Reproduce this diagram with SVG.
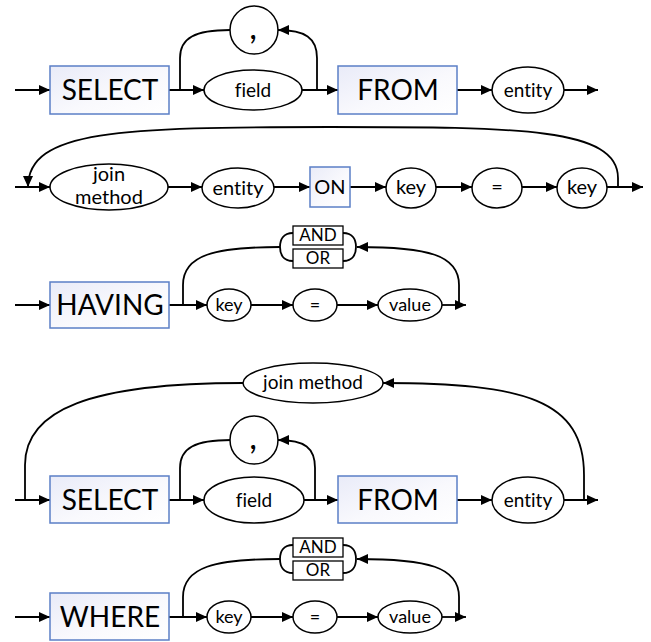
<svg xmlns="http://www.w3.org/2000/svg" width="651" height="642" viewBox="0 0 651 642">
  <defs>
    <linearGradient id="kwFill" x1="0" y1="0" x2="1" y2="1">
      <stop offset="0" stop-color="#e9ebf8"/>
      <stop offset="0.55" stop-color="#f9f9fd"/>
      <stop offset="1" stop-color="#ffffff"/>
    </linearGradient>
    <marker id="arrow" markerUnits="userSpaceOnUse" markerWidth="12" markerHeight="10" refX="11" refY="5" orient="auto">
      <path d="M0,0 L11,5 L0,10 z" fill="#000"/>
    </marker>
  </defs>
  <style>
    .kw { fill: url(#kwFill); stroke: #5b7fc6; stroke-width: 1.5; }
    .term { fill: #fff; stroke: #000; stroke-width: 1.5; }
    .op { fill: #fff; stroke: #000; stroke-width: 1.3; }
    .edge { fill: none; stroke: #000; stroke-width: 1.8; }
    .arr { marker-end: url(#arrow); }
    text { font-family: Lato, "Open Sans", sans-serif; fill: #000; text-anchor: middle; font-variant-ligatures: none; }
    .big { font-size: 28px; }
    .mid { font-size: 19px; }
    .row2 { font-size: 20px; }
    .sm { font-size: 18px; }
    .xs { font-size: 17px; }
    .comma { font-size: 34px; }
  </style>

  <!-- connectors -->
  <g id="connectors">
    <!-- SELECT ... FROM entity -->
    <path class="edge arr" d="M15,90 H50"/>
    <path class="edge arr" d="M169,90 H204"/>
    <path class="edge arr" d="M302,90 H338"/>
    <path class="edge arr" d="M457,90 H492"/>
    <path class="edge arr" d="M564,90 H598"/>
    <path class="edge" d="M180,90 V58 C180,38 195,30 230,30"/>
    <path class="edge arr" d="M317,90 V58 C317,38 305,30 278,30"/>

    <!-- join method entity ON key = key -->
    <path class="edge arr" d="M15,187 H50"/>
    <path class="edge arr" d="M168,187 H202"/>
    <path class="edge arr" d="M274,187 H310"/>
    <path class="edge arr" d="M350,187 H386"/>
    <path class="edge arr" d="M436,187 H472"/>
    <path class="edge arr" d="M522,187 H557"/>
    <path class="edge arr" d="M607,187 H643"/>
    <path class="edge arr" d="M618,187 V178 C618,128 520,127 330,127 C120,127 28,130 28,187"/>

    <!-- HAVING key = value -->
    <path class="edge arr" d="M15,305 H50"/>
    <path class="edge arr" d="M169,305 H207"/>
    <path class="edge arr" d="M251,305 H293"/>
    <path class="edge arr" d="M337,305 H378"/>
    <path class="edge arr" d="M442,305 H466"/>
    <path class="edge" d="M183,305 V285 C183,255 215,247 280,247"/>
    <path class="edge arr" d="M459,305 V285 C459,255 428,247 357,247"/>
    <path class="edge" d="M293,233 C283,233 280,240 280,247 C280,254 283,261 293,261"/>
    <path class="edge" d="M343,233 C353,233 356,240 356,247 C356,254 353,261 343,261"/>

    <!-- SELECT ... FROM entity with join method loop -->
    <path class="edge arr" d="M15,500 H50"/>
    <path class="edge arr" d="M169,500 H204"/>
    <path class="edge arr" d="M304,500 H338"/>
    <path class="edge arr" d="M457,500 H492"/>
    <path class="edge arr" d="M564,500 H598"/>
    <path class="edge" d="M180,500 V468 C180,448 195,440 231,440"/>
    <path class="edge arr" d="M315,500 V468 C315,448 305,440 278,440"/>
    <path class="edge arr" d="M584,500 V475 C584,400 525,383 383,383"/>
    <path class="edge" d="M243,383 C90,383 25,410 25,465 V500"/>

    <!-- WHERE key = value -->
    <path class="edge arr" d="M15,617 H50"/>
    <path class="edge arr" d="M169,617 H207"/>
    <path class="edge arr" d="M251,617 H293"/>
    <path class="edge arr" d="M337,617 H378"/>
    <path class="edge arr" d="M442,617 H466"/>
    <path class="edge" d="M183,617 V597 C183,567 215,559 280,559"/>
    <path class="edge arr" d="M459,617 V597 C459,567 428,559 357,559"/>
    <path class="edge" d="M293,545 C283,545 280,552 280,559 C280,566 283,573 293,573"/>
    <path class="edge" d="M343,545 C353,545 356,552 356,559 C356,566 353,573 343,573"/>
  </g>

  <!-- row 1 -->
  <g id="select1"><rect class="kw" x="50" y="66" width="119" height="48"/><text class="big" x="110" y="100">SELECT</text></g>
  <g id="comma1"><ellipse class="term" cx="254" cy="30" rx="24" ry="24"/><text class="comma" x="253" y="39">,</text></g>
  <g id="field1"><ellipse class="term" cx="253" cy="90" rx="49" ry="20"/><text class="mid" x="253" y="97">field</text></g>
  <g id="from1"><rect class="kw" x="338" y="66" width="119" height="48"/><text class="big" x="398" y="100">FROM</text></g>
  <g id="entity1"><ellipse class="term" cx="528" cy="90" rx="36" ry="23"/><text class="mid" x="528" y="97">entity</text></g>

  <!-- row 2 -->
  <g id="join2"><ellipse class="term" cx="109" cy="187" rx="59" ry="23"/><text class="row2" x="109" y="181">join</text><text class="row2" x="109" y="204">method</text></g>
  <g id="entity2"><ellipse class="term" cx="238" cy="188" rx="36" ry="20"/><text class="row2" x="238" y="195">entity</text></g>
  <g id="on2"><rect class="kw" x="310" y="167" width="40" height="40"/><text class="row2" x="330" y="194">ON</text></g>
  <g id="key2a"><ellipse class="term" cx="411" cy="188" rx="25" ry="20"/><text class="row2" x="411" y="194">key</text></g>
  <g id="eq2"><ellipse class="term" cx="497" cy="188" rx="25" ry="20"/><text class="row2" x="497" y="194">=</text></g>
  <g id="key2b"><ellipse class="term" cx="582" cy="188" rx="25" ry="20"/><text class="row2" x="582" y="194">key</text></g>

  <!-- row 3 -->
  <g id="having3"><rect class="kw" x="50" y="282" width="119" height="46"/><text class="big" x="110" y="315">HAVING</text></g>
  <g id="and3"><rect class="op" x="293" y="226" width="50" height="19"/><text class="xs" x="318" y="241">AND</text></g>
  <g id="or3"><rect class="op" x="293" y="249" width="50" height="19"/><text class="xs" x="318" y="264">OR</text></g>
  <g id="key3"><ellipse class="term" cx="229" cy="305" rx="22" ry="16"/><text class="sm" x="229" y="311">key</text></g>
  <g id="eq3"><ellipse class="term" cx="315" cy="305" rx="22" ry="16"/><text class="sm" x="315" y="311">=</text></g>
  <g id="value3"><ellipse class="term" cx="410" cy="305" rx="32" ry="16"/><text class="sm" x="410" y="311">value</text></g>

  <!-- row 4 -->
  <g id="join4"><ellipse class="term" cx="313" cy="383" rx="70" ry="20"/><text class="mid" x="313" y="389">join method</text></g>
  <g id="select4"><rect class="kw" x="50" y="476" width="119" height="47"/><text class="big" x="110" y="510">SELECT</text></g>
  <g id="comma4"><ellipse class="term" cx="254" cy="440" rx="24" ry="24"/><text class="comma" x="253" y="449">,</text></g>
  <g id="field4"><ellipse class="term" cx="254" cy="500" rx="50" ry="23"/><text class="mid" x="254" y="507">field</text></g>
  <g id="from4"><rect class="kw" x="338" y="476" width="119" height="47"/><text class="big" x="398" y="510">FROM</text></g>
  <g id="entity4"><ellipse class="term" cx="528" cy="500" rx="36" ry="23"/><text class="mid" x="528" y="507">entity</text></g>

  <!-- row 5 -->
  <g id="where5"><rect class="kw" x="50" y="593" width="119" height="47"/><text class="big" x="110" y="627">WHERE</text></g>
  <g id="and5"><rect class="op" x="293" y="538" width="50" height="19"/><text class="xs" x="318" y="553">AND</text></g>
  <g id="or5"><rect class="op" x="293" y="561" width="50" height="19"/><text class="xs" x="318" y="576">OR</text></g>
  <g id="key5"><ellipse class="term" cx="229" cy="617" rx="22" ry="16"/><text class="sm" x="229" y="623">key</text></g>
  <g id="eq5"><ellipse class="term" cx="315" cy="617" rx="22" ry="16"/><text class="sm" x="315" y="623">=</text></g>
  <g id="value5"><ellipse class="term" cx="410" cy="617" rx="32" ry="16"/><text class="sm" x="410" y="623">value</text></g>
</svg>
